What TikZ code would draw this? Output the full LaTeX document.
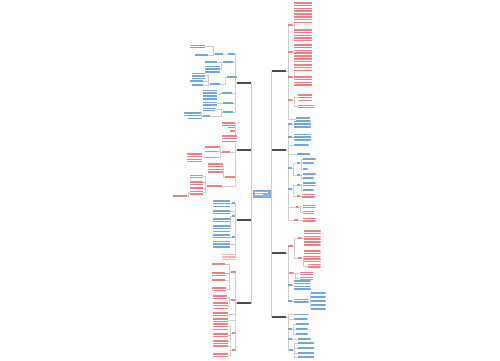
\documentclass[tikz,border=0pt]{standalone}
\usetikzlibrary{positioning}
\definecolor{mred}{RGB}{236,128,128}
\definecolor{mblue}{RGB}{112,166,220}
\definecolor{mline}{RGB}{205,205,205}
\definecolor{mcore}{RGB}{140,178,220}
\pgfdeclarelayer{bg}
\pgfsetlayers{bg,main}
\tikzset{
    tx/.style args = {#1/#2/#3}{
        minimum width = #1*0.02cm,
        minimum height = #2*0.02cm,
        inner sep = 0pt,
        outer sep = 0pt,
        fill = white,
        path picture = {
            \draw[#3, line width=#1*0.02cm, dash pattern=on 0.9pt off 0.7pt]
                (path picture bounding box.north) -- (path picture bounding box.south);
        },
    },
    rt/.style args = {#1/#2}{
        tx = {#1/#2/mred},
    },
    bt/.style args = {#1/#2}{
        tx = {#1/#2/mblue},
    },
    hd/.style = {
        minimum width = 14*0.02cm,
        minimum height = 3*0.02cm,
        inner sep = 0pt,
        fill = white,
        path picture = {
            \draw[black!70, line width=1pt]
                (path picture bounding box.west) -- (path picture bounding box.east);
        },
    },
    core/.style = {
        minimum width = 17*0.02cm,
        minimum height = 7*0.02cm,
        inner sep = 0pt,
        fill = mcore,
        draw = mblue,
        line width = 0.3pt,
        path picture = {
            \draw[white, line width=0.7pt]
                ([yshift=-1.3pt,xshift=1pt]path picture bounding box.north west) --
                ([yshift=-1.3pt,xshift=-1pt]path picture bounding box.north east);
            \draw[white, line width=0.7pt]
                ([yshift=1.3pt,xshift=1pt]path picture bounding box.south west) --
                ([yshift=1.3pt,xshift=-4pt]path picture bounding box.south east);
        },
    },
    hot/.style = {
        tx = {13/10/white},
        fill = mred!60,
    },
    link/.style = {
        draw = mline,
        line width = 0.35pt,
    },
}
% parent -> children, to the right / to the left
\newcommand{\rlink}[2]{\foreach \ch in {#2} \draw[link] (#1.east) -- ++(1.5,0) |- (\ch.west);}
\newcommand{\llink}[2]{\foreach \ch in {#2} \draw[link] (#1.west) -- ++(-1.5,0) |- (\ch.east);}

\begin{document}
\begin{tikzpicture}[x=0.02cm, y=-0.02cm]
    \useasboundingbox (0,0) rectangle (500,360);

    \node[core] (C) at (261.5,193.5) {};

    % main branches
    \node[hd] (R1) at (279,71) {};
    \node[hd] (R2) at (279,150) {};
    \node[hd] (R3) at (279,253) {};
    \node[hd] (R4) at (279,317) {};
    \node[hd] (L1) at (244,83) {};
    \node[hd] (L2) at (244,150) {};
    \node[hd] (L3) at (244,220) {};
    \node[hd] (L4) at (244,303) {};

    % R1
    \node[rt=5/2] (s11) at (290,25) {};
    \node[rt=18/20] (r11a) at (303,12) {};
    \node[rt=18/12] (r11b) at (303,35) {};
    \node[rt=5/2] (s12) at (290,52) {};
    \node[rt=18/18] (r12a) at (303,53) {};
    \node[rt=5/2] (s13) at (290,77) {};
    \node[rt=18/8] (r13a) at (303,68) {};
    \node[rt=18/10] (r13b) at (303,81) {};
    \node[rt=5/2] (s14) at (290,100) {};
    \node[rt=14/6] (r14a) at (305,97) {};
    \node[rt=16/3] (r14b) at (306,106) {};
    \node[bt=14/4] (b15) at (303,119) {};

    % R2
    \node[bt=4/2] (s21) at (290,124) {};
    \node[bt=17/7] (b21) at (302.5,124) {};
    \node[bt=4/2] (s22) at (290,137) {};
    \node[bt=17/7] (b22) at (302.5,137) {};
    \node[bt=15/2] (b23) at (301,145) {};
    \node[bt=13/2] (b24) at (303.5,154) {};
    \node[bt=4/2] (s24) at (290,168) {};
    \node[bt=3/2] (ss1) at (298.5,163) {};
    \node[bt=13/2] (b241) at (309,159) {};
    \node[bt=11/2] (b242) at (308,163) {};
    \node[bt=5/2] (b243) at (305,169) {};
    \node[bt=3/2] (ss2) at (298.5,175) {};
    \node[bt=13/2] (b244) at (309,174) {};
    \node[bt=11/2] (b245) at (308,178) {};
    \node[bt=4/2] (s25) at (290,189) {};
    \node[bt=3/2] (ss3) at (298.5,185) {};
    \node[bt=13/4] (b251) at (309,184) {};
    \node[bt=11/2] (b252) at (308,190) {};
    \node[rt=3/2] (ss4) at (298.5,196) {};
    \node[rt=13/5] (r253) at (308,196) {};
    \node[rt=3/2] (s26) at (297,207) {};
    \node[rt=13/3] (r261) at (309,206) {};
    \node[rt=11/3] (r262) at (308,212) {};
    \node[rt=4/2] (s27) at (296,220) {};
    \node[rt=13/5] (r271) at (309,220) {};

    % R3
    \node[rt=5/2] (s31) at (290.5,246) {};
    \node[rt=4/2] (ss31) at (299.5,238) {};
    \node[rt=17/16] (r311) at (312,238) {};
    \node[rt=4/2] (ss32) at (299.5,258) {};
    \node[rt=17/12] (r321) at (312,256) {};
    \node[rt=13/5] (r322) at (314,266) {};
    \node[rt=5/2] (s32) at (291,273) {};
    \node[rt=13/3] (r331) at (306.5,273) {};
    \node[rt=13/3] (r332) at (306.5,278) {};
    \node[bt=4/2] (s33) at (290,285) {};
    \node[bt=17/10] (b33) at (302,285) {};
    \node[bt=4/2] (s34) at (290,301) {};
    \node[bt=15/5] (b34) at (301,301) {};
    \foreach \i/\y in {1/293,2/297,3/301,4/305,5/309}
        \node[bt=15/2] (b34\i) at (318,\y) {};

    % R4
    \node[bt=15/2] (b41) at (301,314.5) {};
    \node[bt=14/2] (b42) at (300.5,319) {};
    \node[bt=4/2] (s43) at (290,329) {};
    \node[bt=13/2] (b431) at (302,324) {};
    \node[bt=12/2] (b432) at (301.5,329) {};
    \node[bt=12/2] (b433) at (301.5,334) {};
    \node[bt=4/2] (s44) at (290,339) {};
    \node[bt=13/2] (b441) at (304,339) {};
    \node[bt=4/2] (s45) at (291,350) {};
    \foreach \i/\y in {1/343,2/348,3/353,4/357}
        \node[bt=16/2] (b45\i) at (306,\y) {};

    % L1
    \node[bt=7/2] (a1) at (231.5,54) {};
    \node[bt=8/2] (a11) at (219,54) {};
    \node[bt=13/2] (a111) at (201.5,55) {};
    \node[bt=15/3] (a112) at (197.5,46) {};
    \node[bt=10/2] (a2) at (228,62) {};
    \node[bt=12/2] (a21) at (211,62) {};
    \node[bt=15/7] (a22) at (212.5,69) {};
    \node[bt=10/2] (a3) at (232,77) {};
    \node[bt=10/2] (a31) at (215,84) {};
    \node[bt=13/6] (a311) at (198.5,75.5) {};
    \node[bt=13/2] (a312) at (196.5,81) {};
    \node[bt=11/2] (a313) at (197.5,85) {};
    \node[bt=10/2] (a4) at (227,93) {};
    \node[bt=14/10] (a41) at (210,94.5) {};
    \node[bt=10/2] (a5) at (228,103) {};
    \node[bt=14/4] (a51) at (210,103.5) {};
    \node[bt=10/2] (a6) at (228,112) {};
    \node[bt=12/3] (a61) at (209,109) {};
    \node[bt=7/2] (a62) at (206.5,116) {};
    \node[bt=17/3] (a621) at (192.5,113.5) {};
    \node[bt=13/2] (a622) at (194.5,118.5) {};

    % L2
    \node[rt=13/3] (c1) at (228.5,123.5) {};
    \node[rt=7/2] (c2) at (231.5,127.5) {};
    \node[rt=5/2] (c3) at (232.5,131) {};
    \node[rt=15/8] (c4) at (229.5,139) {};
    \node[rt=8/2] (c5) at (226,152) {};
    \node[rt=15/2] (c51) at (212.5,147) {};
    \node[rt=13/2] (c52) at (211.5,151.5) {};
    \node[rt=13/2] (c53) at (211.5,157.5) {};
    \node[rt=15/9] (c531) at (194.5,157.5) {};
    \node[rt=10/2] (c6) at (230,177) {};
    \node[rt=15/10] (c61) at (215.5,168) {};
    \node[rt=15/2] (c7) at (214.5,186) {};
    \node[rt=13/3] (c71) at (196.5,176) {};
    \node[rt=13/3] (c72) at (196.5,182.5) {};
    \node[rt=13/2] (c73) at (196.5,188) {};
    \node[rt=13/4] (c74) at (196.5,192.5) {};
    \node[rt=14/2] (c741) at (180,196) {};

    % L3
    \node[bt=3/2] (d1) at (233.5,203) {};
    \node[bt=17/7] (d11) at (221.5,203.5) {};
    \node[bt=17/3] (d2) at (221.5,211.5) {};
    \node[bt=3/2] (d3) at (233.5,216) {};
    \node[bt=17/4] (d31) at (221.5,220) {};
    \node[bt=17/7] (d32) at (221.5,228.5) {};
    \node[bt=3/2] (d4) at (233.5,237) {};
    \node[bt=17/4] (d41) at (221.5,236) {};
    \node[bt=17/7] (d5) at (221.5,244) {};
    \node[hot] (d6) at (228.5,257) {};

    % L4
    \node[rt=5/2] (e1) at (233.5,272) {};
    \node[rt=13/2] (e11) at (218.5,264) {};
    \node[rt=13/3] (e12) at (218.5,273.5) {};
    \node[rt=13/2] (e13) at (218.5,280) {};
    \node[rt=14/5] (e14) at (219,289.5) {};
    \node[rt=5/2] (e2) at (233,300) {};
    \node[rt=14/5] (e21) at (220,297.5) {};
    \node[rt=15/8] (e22) at (220.5,306) {};
    \node[rt=15/5] (e3) at (220.5,314.5) {};
    \node[rt=15/4] (e4) at (220.5,320) {};
    \node[rt=4/2] (e5) at (233.5,333) {};
    \node[rt=15/7] (e51) at (220.5,326.5) {};
    \node[rt=15/5] (e52) at (220.5,335.5) {};
    \node[rt=15/3] (e53) at (220.5,341.5) {};
    \node[rt=4/2] (e6) at (233.5,350) {};
    \node[rt=15/2] (e61) at (220.5,346) {};
    \node[rt=15/4] (e62) at (220.5,355) {};

    \begin{pgfonlayer}{bg}
        \fill[white] (0,0) rectangle (500,360);
        % trunks
        \foreach \ch in {R1,R2,R3,R4} \draw[link] (C.east) -- ++(1.5,0) |- (\ch.west);
        \foreach \ch in {L1,L2,L3,L4} \draw[link] (C.west) -- ++(-1.5,0) |- (\ch.east);
        % right side
        \rlink{R1}{s11,s12,s13,s14,b15}
        \rlink{s11}{r11a,r11b}
        \rlink{s12}{r12a}
        \rlink{s13}{r13a,r13b}
        \rlink{s14}{r14a,r14b}
        \rlink{R2}{s21,s22,b23,b24,s24,s25,s26,s27}
        \rlink{s21}{b21}
        \rlink{s22}{b22}
        \rlink{s24}{ss1,ss2}
        \rlink{ss1}{b241,b242,b243}
        \rlink{ss2}{b244,b245}
        \rlink{s25}{ss3,ss4}
        \rlink{ss3}{b251,b252}
        \rlink{ss4}{r253}
        \rlink{s26}{r261,r262}
        \rlink{s27}{r271}
        \rlink{R3}{s31,s32,s33,s34}
        \rlink{s31}{ss31,ss32}
        \rlink{ss31}{r311}
        \rlink{ss32}{r321,r322}
        \rlink{s32}{r331,r332}
        \rlink{s33}{b33}
        \rlink{s34}{b34}
        \rlink{b34}{b341,b342,b343,b344,b345}
        \rlink{R4}{b41,b42,s43,s44,s45}
        \rlink{s43}{b431,b432,b433}
        \rlink{s44}{b441}
        \rlink{s45}{b451,b452,b453,b454}
        % left side
        \llink{L1}{a1,a2,a3,a4,a5,a6}
        \llink{a1}{a11}
        \llink{a11}{a111,a112}
        \llink{a2}{a21,a22}
        \llink{a3}{a31}
        \llink{a31}{a311,a312,a313}
        \llink{a4}{a41}
        \llink{a5}{a51}
        \llink{a6}{a61,a62}
        \llink{a62}{a621,a622}
        \llink{L2}{c1,c2,c3,c4,c5,c6,c7}
        \llink{c5}{c51,c52,c53}
        \llink{c53}{c531}
        \llink{c6}{c61}
        \llink{c7}{c71,c72,c73,c74}
        \llink{c74}{c741}
        \llink{L3}{d1,d2,d3,d4,d5,d6}
        \llink{d1}{d11}
        \llink{d3}{d31,d32}
        \llink{d4}{d41}
        \llink{L4}{e1,e2,e3,e4,e5,e6}
        \llink{e1}{e11,e12,e13,e14}
        \llink{e2}{e21,e22}
        \llink{e5}{e51,e52,e53}
        \llink{e6}{e61,e62}
    \end{pgfonlayer}
\end{tikzpicture}
\end{document}
